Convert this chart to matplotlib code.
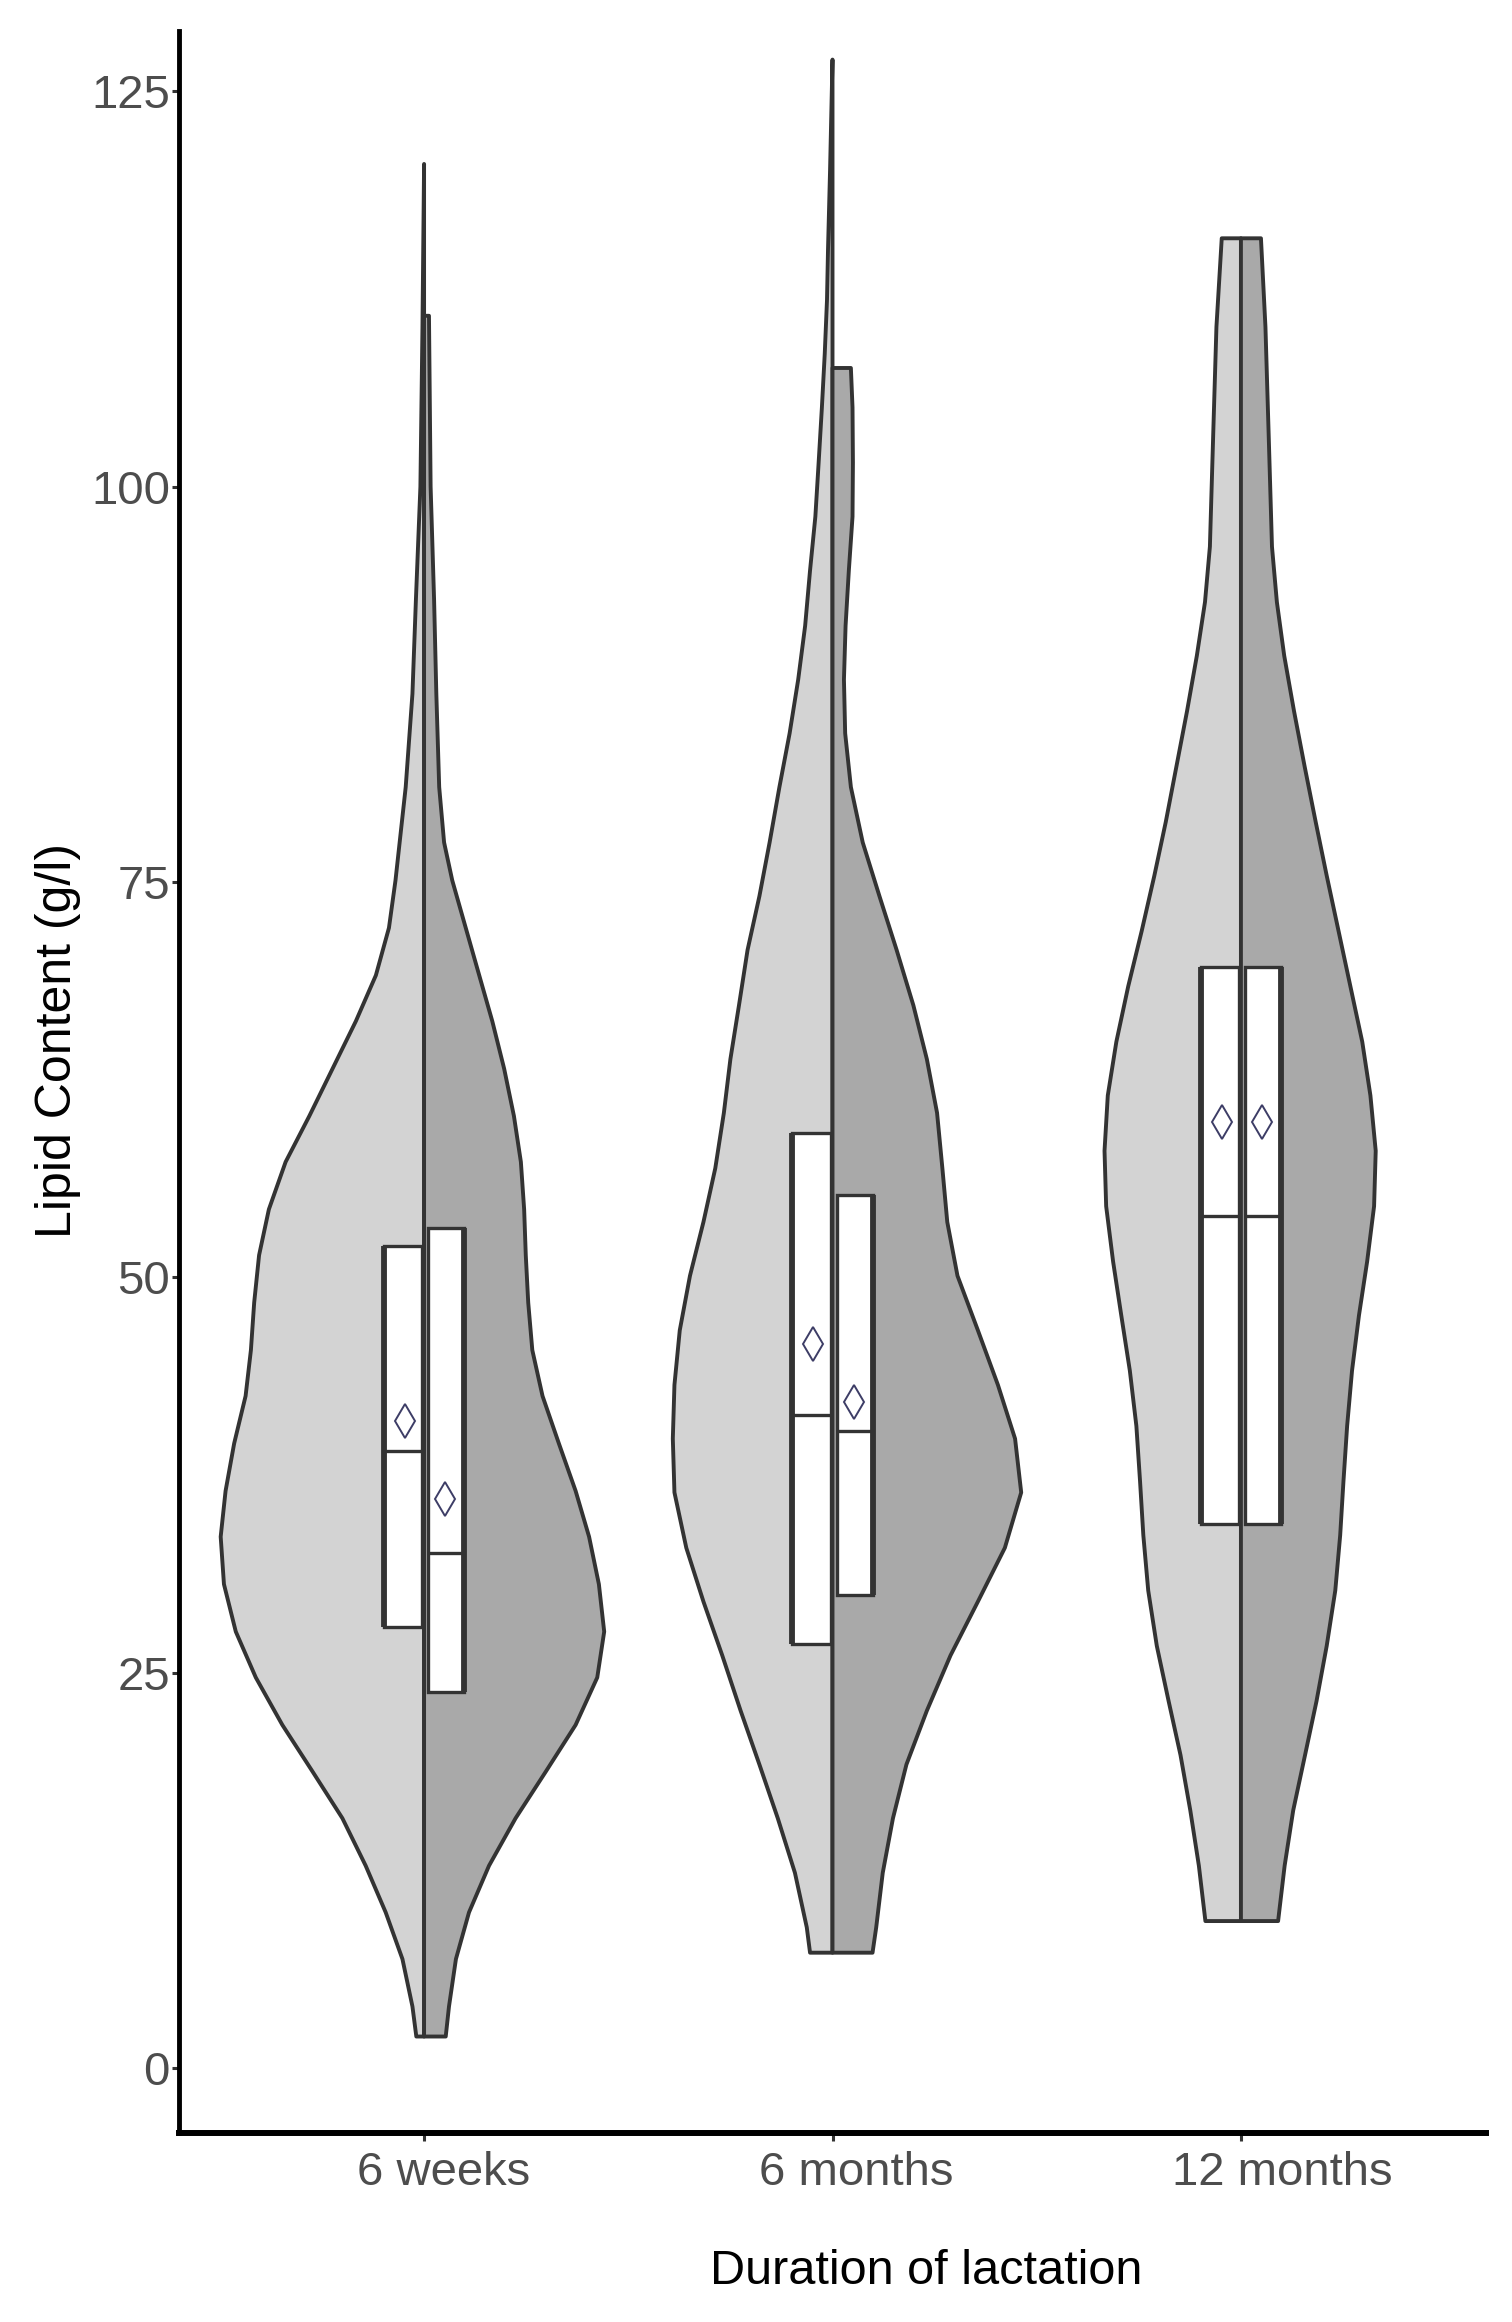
import numpy as np
import matplotlib
matplotlib.use('Agg')
import matplotlib.pyplot as plt
import matplotlib.transforms as mtransforms
from matplotlib.patches import Rectangle

plt.rcParams['font.family'] = ['Liberation Sans', 'DejaVu Sans']

# ── data ─────────────────────────────────────────────────────────────────────
groups = ['6 weeks', '6 months', '12 months']

# violin outlines: lipid value (g/l) and half-width (x units), top -> bottom
wk6_left_y = [120.4, 110.0, 100.0, 92.85, 86.9, 81.0, 75.1, 72.1, 69.1, 66.2, 63.2,
              60.2, 57.3, 54.3, 51.4, 48.4, 45.4, 42.5, 39.5, 36.5, 33.6, 30.6,
              27.6, 24.7, 21.7, 18.75, 15.8, 12.8, 9.85, 6.9, 3.9, 2.0]
wk6_left_w = [0.0, 0.004, 0.009, 0.020, 0.0285, 0.045, 0.070, 0.086, 0.118, 0.167,
              0.224, 0.281, 0.339, 0.380, 0.404, 0.416, 0.424, 0.437, 0.465, 0.486,
              0.498, 0.490, 0.461, 0.412, 0.347, 0.273, 0.200, 0.143, 0.094, 0.053,
              0.0285, 0.019]
wk6_right_y = [110.8, 100.0, 92.85, 86.9, 81.0, 77.5, 75.1, 72.1, 69.1, 66.2, 63.2,
               60.2, 57.3, 54.3, 51.4, 48.4, 45.4, 42.5, 39.5, 36.5, 33.6, 30.6,
               27.6, 24.7, 21.7, 18.75, 15.8, 12.8, 9.85, 6.9, 3.9, 2.0]
wk6_right_w = [0.012, 0.016, 0.0245, 0.030, 0.037, 0.049, 0.069, 0.102, 0.135, 0.167,
               0.196, 0.220, 0.237, 0.245, 0.249, 0.255, 0.265, 0.290, 0.330, 0.371,
               0.404, 0.428, 0.441, 0.424, 0.371, 0.298, 0.224, 0.159, 0.110, 0.078,
               0.061, 0.053]

mo6_left_y = [127.0, 120.0, 115.0, 111.8, 108.4, 105.0, 101.5, 98.1, 94.7, 91.2, 87.8,
              84.4, 81.0, 77.5, 74.1, 70.7, 67.2, 63.8, 60.4, 56.9, 53.5, 50.1,
              46.65, 43.2, 39.8, 36.4, 32.9, 29.5, 26.1, 22.6, 19.2, 15.8, 12.35,
              8.9, 7.3]
mo6_left_w = [0.0, 0.006, 0.011, 0.0135, 0.019, 0.026, 0.034, 0.042, 0.055, 0.067,
              0.084, 0.105, 0.130, 0.154, 0.179, 0.208, 0.229, 0.250, 0.266, 0.287,
              0.316, 0.349, 0.374, 0.387, 0.391, 0.387, 0.358, 0.316, 0.270, 0.225,
              0.179, 0.134, 0.092, 0.063, 0.055]
mo6_right_y = [107.5, 105.0, 101.5, 98.1, 94.7, 91.2, 87.8, 84.4, 81.0, 77.5, 74.1,
               70.7, 67.2, 63.8, 60.4, 56.9, 53.5, 50.1, 46.65, 43.2, 39.8, 36.4,
               32.9, 29.5, 26.1, 22.6, 19.2, 15.8, 12.35, 8.9, 7.3]
mo6_right_w = [0.045, 0.049, 0.050, 0.049, 0.040, 0.032, 0.028, 0.031, 0.045, 0.074,
               0.115, 0.157, 0.198, 0.231, 0.256, 0.269, 0.281, 0.306, 0.356, 0.405,
               0.447, 0.462, 0.422, 0.356, 0.289, 0.231, 0.181, 0.148, 0.123, 0.107,
               0.098]

mo12_left_y = [115.7, 110.1, 103.2, 96.2, 92.7, 89.3, 85.8, 82.3, 78.8, 75.4, 71.9,
               68.4, 64.9, 61.5, 58.0, 54.5, 51.0, 47.6, 44.1, 40.6, 37.1, 33.7,
               30.2, 26.7, 23.2, 19.8, 16.3, 12.8, 9.3]
mo12_left_w = [0.047, 0.060, 0.068, 0.076, 0.088, 0.108, 0.132, 0.158, 0.184, 0.212,
               0.243, 0.276, 0.305, 0.326, 0.334, 0.330, 0.313, 0.293, 0.272, 0.256,
               0.247, 0.239, 0.227, 0.206, 0.177, 0.148, 0.124, 0.103, 0.087]
mo12_right_y = mo12_left_y
mo12_right_w = [0.049, 0.060, 0.068, 0.076, 0.088, 0.106, 0.130, 0.156, 0.183, 0.210,
                0.239, 0.268, 0.297, 0.317, 0.330, 0.326, 0.309, 0.289, 0.272, 0.260,
                0.251, 0.243, 0.231, 0.210, 0.185, 0.157, 0.128, 0.107, 0.091]

# box summaries per group: (left half, right half)
q1_left = [27.9, 26.8, 34.4]
med_left = [39.0, 41.3, 53.9]
q3_left = [52.0, 59.1, 69.6]
mean_left = [40.9, 45.8, 59.8]
q1_right = [23.8, 29.9, 34.4]
med_right = [32.6, 40.3, 53.9]
q3_right = [53.1, 55.2, 69.6]
mean_right = [36.0, 42.1, 59.8]

yticks = [0, 25, 50, 75, 100, 125]

LIGHT = '#d3d3d3'
DARK = '#a9a9a9'
EDGE = '#333333'


def half_violin(ax, center, ys, ws, side, color):
    sign = -1 if side == 'left' else 1
    xs = [center + sign * w for w in ws] + [center, center]
    yy = list(ys) + [ys[-1], ys[0]]
    ax.fill(xs, yy, facecolor=color, edgecolor=EDGE, linewidth=2.8,
            joinstyle='round', zorder=2)


def half_box(ax, center, x_out, x_in, q1, med, q3, mean, mean_off):
    x0, x1 = sorted([x_out, x_in])
    ax.add_patch(Rectangle((center + x0, q1), x1 - x0, q3 - q1, facecolor='white',
                           edgecolor=EDGE, linewidth=2.4, zorder=3))
    # outer side of each half box is drawn heavier, as in the reference
    ax.vlines(center + x_out, q1, q3, color=EDGE, linewidth=4.2, zorder=4)
    ax.hlines(med, center + x0, center + x1, color=EDGE, linewidth=2.4, zorder=4)
    ax.plot(center + mean_off, mean, marker='d', markersize=17, markerfacecolor='white',
            markeredgecolor='#3d3d66', markeredgewidth=1.4, zorder=5)


fig = plt.figure(figsize=(15.12, 23.22), dpi=100)
ax = fig.add_axes([0.1184, 0.0814, 0.8644, 0.9052])

violins = [
    (wk6_left_y, wk6_left_w, wk6_right_y, wk6_right_w),
    (mo6_left_y, mo6_left_w, mo6_right_y, mo6_right_w),
    (mo12_left_y, mo12_left_w, mo12_right_y, mo12_right_w),
]

for i, (ly, lw, ry, rw) in enumerate(violins):
    c = i + 1
    half_violin(ax, c, ly, lw, 'left', LIGHT)
    half_violin(ax, c, ry, rw, 'right', DARK)
    half_box(ax, c, -0.098, -0.004, q1_left[i], med_left[i], q3_left[i],
             mean_left[i], -0.047)
    half_box(ax, c, 0.098, 0.010, q1_right[i], med_right[i], q3_right[i],
             mean_right[i], 0.052)

# ── axes styling ─────────────────────────────────────────────────────────────
ax.set_xlim(0.4, 3.6)
ax.set_ylim(-4.1, 128.8)
ax.set_xticks([1, 2, 3])
ax.set_xticklabels(groups)
ax.set_yticks(yticks)

for side in ['top', 'right']:
    ax.spines[side].set_visible(False)
ax.spines['left'].set_linewidth(3.5)
ax.spines['bottom'].set_linewidth(4.3)
ax.spines['left'].set_color('black')
ax.spines['bottom'].set_color('black')

ax.tick_params(axis='both', colors=EDGE, width=2.2, labelsize=34,
               labelcolor='#4d4d4d')
ax.tick_params(axis='y', length=5, pad=1.5)
ax.tick_params(axis='x', length=6, pad=7)

# x tick labels sit slightly right of their ticks in the reference
shifts = [14, 17, 30]
for lab, dx in zip(ax.get_xticklabels(), shifts):
    off = mtransforms.ScaledTranslation(dx / 72, 0, fig.dpi_scale_trans)
    lab.set_transform(lab.get_transform() + off)

ax.set_ylabel('Lipid Content (g/l)', fontsize=36, color='black')
ax.yaxis.set_label_coords(-0.075, 0.52)
ax.set_xlabel('Duration of lactation', fontsize=35, color='black')
ax.xaxis.set_label_coords(0.572, -0.055)

fig.savefig('out.png', dpi=100)
